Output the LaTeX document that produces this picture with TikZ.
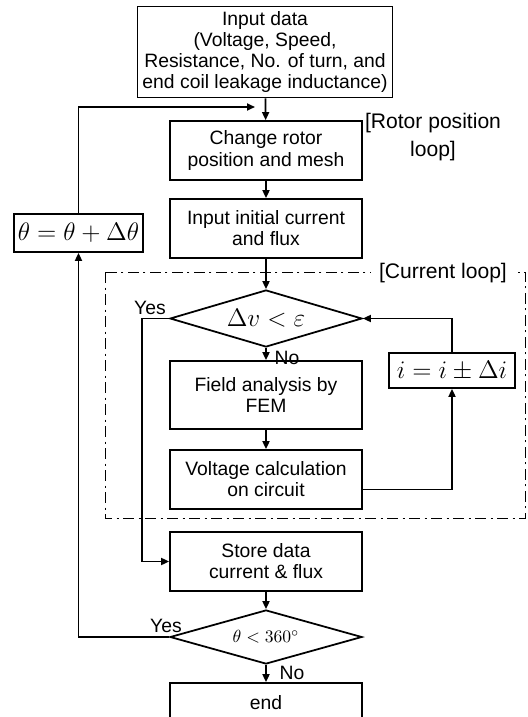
\documentclass[tikz,border=0pt]{standalone}
\usepackage{fontspec}
\setmainfont{Liberation Sans}
\usetikzlibrary{shapes.geometric,arrows.meta}

\begin{document}
\begin{tikzpicture}[x=0.2mm, y=-0.2mm,
    font=\fontsize{11}{12}\selectfont,
    >={Triangle[length=1.6mm,width=1.4mm]},
    blk/.style={draw, line width=1pt, minimum width=3.84cm, minimum height=1.18cm, align=center, inner sep=1pt},
    cond/.style={draw, line width=1pt, diamond, aspect=3.3, inner sep=0pt, minimum width=3.84cm},
    loopname/.style={font=\fontsize{12}{16}\selectfont, align=center},
    flow/.style={->, line width=1pt}]
        \useasboundingbox (0,0) rectangle (528,717);

        \node[blk, minimum width=5.1cm, minimum height=1.82cm] (inp) at (265,52)
          {Input data\\(Voltage, Speed,\\Resistance, No. of turn, and\\end coil leakage inductance)};
        \node[blk] (rot) at (266,150.5) {Change rotor\\position and mesh};
        \node[blk] (init) at (266,228.5) {Input initial current\\and flux};
        \node[cond, minimum height=1.14cm] (dv) at (266,318.5) {\Large$\Delta v < \varepsilon$};
        \node[blk, minimum height=1.36cm] (fem) at (266,395) {Field analysis by\\FEM};
        \node[blk] (volt) at (266,479.5) {Voltage calculation\\on circuit};
        \node[blk] (store) at (266,561.5) {Store data\\current \& flux};
        \node[cond, minimum height=1.08cm] (ang) at (266,637) {\fontsize{10}{12}\selectfont$\theta < 360^\circ$};
        \node[blk, minimum height=0.8cm] (fin) at (266,703) {end};

        \node[blk, minimum width=2.58cm, minimum height=0.76cm] (th) at (78.5,233) {\Large$\theta = \theta + \Delta\theta$};
        \node[blk, minimum width=2.52cm, minimum height=0.7cm] (inc) at (452,370.5) {\Large$i = i \pm \Delta i$};

        \node[loopname] (rlbl) at (433,137) {[Rotor position\\loop]};
        \node (yes1) at (150,308) {Yes};
        \node (no1) at (287,358) {No};
        \node (yes2) at (166,626) {Yes};
        \node (no2) at (292,673) {No};

        % current loop frame
        \draw[thin, dash pattern=on 2.2mm off 0.9mm on 0.4mm off 0.9mm] (105,272) rectangle (525,518);
        \node[loopname, fill=white, inner xsep=1.6mm, inner ysep=0pt] (cur) at (443,273) {[Current loop]};

        \coordinate (join) at (266,107);
        \draw[flow] (inp) -- (rot);
        \draw[flow] (rot) -- (init);
        \draw[flow] (init) -- (dv);
        \draw[flow] (dv) -- (fem);
        \draw[flow] (fem) -- (volt);
        \draw[flow] (store) -- (ang);
        \draw[flow] (ang) -- (fin);
        \draw[flow] ([yshift=-2mm]volt.east) -| (inc.south);
        \draw[flow] (inc.north) |- (dv.east);
        \draw[flow] (dv.west) -- ++(-27,0) |- (store.west);
        \draw[flow] (ang.west) -| (th.south);
        \draw[flow, shorten >=2.2mm] (th.north) |- (join);
    \end{tikzpicture}
\end{document}
